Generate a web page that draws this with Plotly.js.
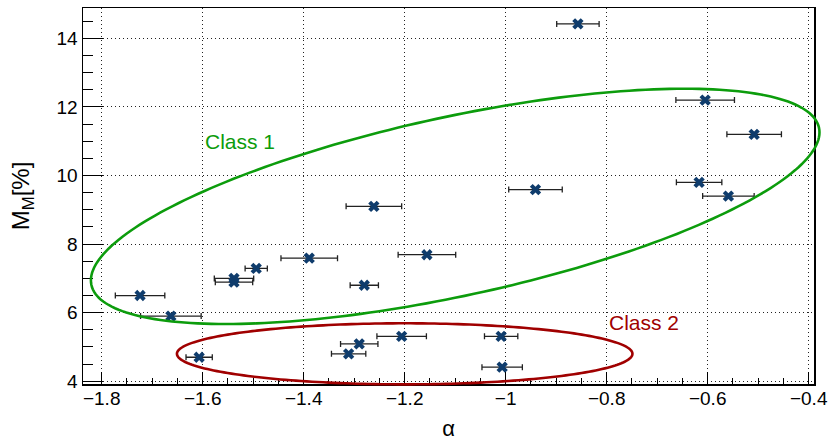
<!DOCTYPE html>
<html>
<head>
<meta charset="utf-8">
<script src="https://cdn.plot.ly/plotly-3.0.1.min.js"></script>
<style>html,body{margin:0;padding:0;background:#fff;}#chart{width:831px;height:441px;}</style>
</head>
<body>
<div id="chart"></div>
<script>
// ---- data ----
const alpha = [-0.857, -0.605, -0.508, -0.617, -0.559, -0.941, -1.261, -1.156, -1.389, -1.494, -1.538, -1.538, -1.280, -1.724, -1.663, -1.206, -1.290, -1.311, -1.607, -1.009, -1.007];
const mm    = [14.42, 12.20, 11.20, 9.80, 9.40, 9.59, 9.10, 7.69, 7.59, 7.29, 7.00, 6.89, 6.80, 6.50, 5.90, 5.31, 5.09, 4.80, 4.70, 5.31, 4.41];
const alphaErr = [0.042, 0.058, 0.054, 0.045, 0.051, 0.053, 0.055, 0.057, 0.056, 0.022, 0.039, 0.037, 0.028, 0.049, 0.060, 0.049, 0.037, 0.034, 0.026, 0.033, 0.040];

// class ellipses (centre, radii in axis units, rotation in degrees)
const classNames   = ["Class 1", "Class 2"];
const ellipseCx    = [-1.10, -1.20];
const ellipseCy    = [9.10, 4.80];
const ellipseR1    = [0.737, 0.451];
const ellipseR2    = [2.61, 0.89];
const ellipseTheta = [12.2, 0];
const classColors  = ["#0c9c0c", "#a00000"];
const labelX       = [-1.60, -0.80];
const labelY       = [10.98, 5.72];

const xRange = [-1.837, -0.3895];
const yRange = [3.92, 14.885];
const W = 831, H = 441;
const margin = {l: 83, r: 17, t: 8, b: 57};
const plotW = W - margin.l - margin.r;
const plotH = H - margin.t - margin.b;
const kx = plotW / (xRange[1] - xRange[0]);
const ky = plotH / (yRange[1] - yRange[0]);

function ellipsePath(i) {
  const th = ellipseTheta[i] * Math.PI / 180;
  const ct = Math.cos(th), st = Math.sin(th);
  const n = 240;
  let p = "";
  for (let k = 0; k <= n; k++) {
    const t = 2 * Math.PI * k / n;
    const dx = ellipseR1[i] * kx * Math.cos(t);
    const dy = ellipseR2[i] * ky * Math.sin(t);
    const px = dx * ct - dy * st;
    const py = dx * st + dy * ct;
    const x = ellipseCx[i] + px / kx;
    const y = ellipseCy[i] + py / ky;
    const u = (x - xRange[0]) / (xRange[1] - xRange[0]);
    const v = (y - yRange[0]) / (yRange[1] - yRange[0]);
    p += (k === 0 ? "M" : "L") + u.toFixed(5) + "," + v.toFixed(5);
  }
  return p + "Z";
}

const font = "Liberation Sans, Arial, Helvetica, sans-serif";

const trace = {
  type: "scatter",
  mode: "markers",
  x: alpha,
  y: mm,
  error_x: {type: "data", array: alphaErr, visible: true, color: "#222", thickness: 1.3, width: 3},
  marker: {symbol: "x", size: 10, color: "#0f3c6c", line: {width: 0}},
  hoverinfo: "x+y",
  showlegend: false,
  cliponaxis: false
};

const shapes = classNames.map((_, i) => ({
  type: "path", xref: "paper", yref: "paper", path: ellipsePath(i),
  line: {color: classColors[i], width: 2.6}, layer: "above"
}));

const annotations = classNames.map((name, i) => ({
  x: labelX[i], y: labelY[i], xref: "x", yref: "y",
  text: name, showarrow: false, xanchor: "left", yanchor: "middle",
  font: {family: font, size: 21, color: classColors[i]}
}));

const layout = {
  width: W, height: H,
  margin: margin,
  paper_bgcolor: "#ffffff",
  plot_bgcolor: "#ffffff",
  font: {family: font, size: 18, color: "#000"},
  showlegend: false,
  xaxis: {
    range: xRange, tickmode: "linear", tick0: -1.8, dtick: 0.2,
    ticks: "inside", ticklen: 12, tickwidth: 1, tickcolor: "#000",
    showline: true, linecolor: "#000", linewidth: 1.5, mirror: true,
    showgrid: true, gridcolor: "#222", griddash: "1px,3px", gridwidth: 1,
    zeroline: false,
    minor: {ticks: "inside", tick0: 0, dtick: 0.05, ticklen: 6, tickcolor: "#000", tickwidth: 1, showgrid: false},
    tickfont: {family: font, size: 19, color: "#000"},
    ticklabelstandoff: -3,
    title: {text: "α", font: {family: font, size: 22, color: "#000"}, standoff: 12}
  },
  yaxis: {
    range: yRange, tickmode: "linear", tick0: 0, dtick: 2,
    ticks: "inside", ticklen: 20, tickwidth: 1, tickcolor: "#000",
    showline: true, linecolor: "#000", linewidth: 1.5, mirror: true,
    showgrid: true, gridcolor: "#222", griddash: "1px,3px", gridwidth: 1,
    zeroline: false,
    minor: {ticks: "inside", tick0: 0, dtick: 0.5, ticklen: 10, tickcolor: "#000", tickwidth: 1, showgrid: false},
    tickfont: {family: font, size: 19, color: "#000"},
    title: {text: "M<sub>M</sub>[%]", font: {family: font, size: 24, color: "#000"}, standoff: 20}
  },
  shapes: shapes,
  annotations: annotations
};

Plotly.newPlot("chart", [trace], layout, {displayModeBar: false, staticPlot: true});
</script>
</body>
</html>
